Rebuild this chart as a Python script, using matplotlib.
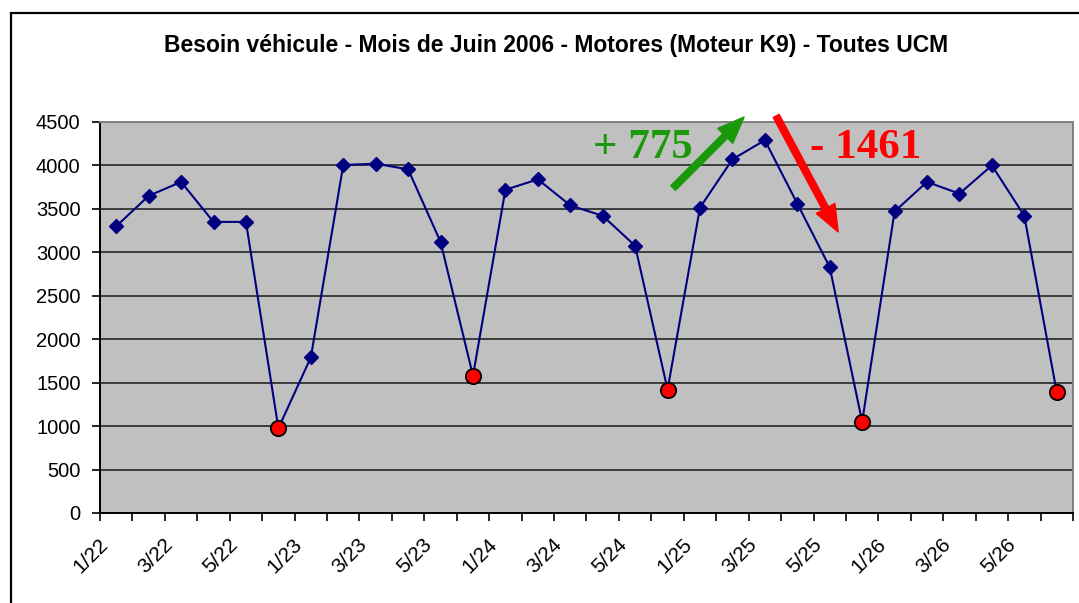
import matplotlib.pyplot as plt
from matplotlib.patches import Rectangle
from matplotlib.transforms import ScaledTranslation

plt.rcParams['font.family'] = ['Liberation Sans', 'DejaVu Sans']

days = ['1/22', '2/22', '3/22', '4/22', '5/22', '6/22',
        '1/23', '2/23', '3/23', '4/23', '5/23', '6/23',
        '1/24', '2/24', '3/24', '4/24', '5/24', '6/24',
        '1/25', '2/25', '3/25', '4/25', '5/25', '6/25',
        '1/26', '2/26', '3/26', '4/26', '5/26', '6/26']
besoin = [3300, 3650, 3810, 3350, 3350, 975,
          1790, 4005, 4020, 3955, 3120, 1580,
          3720, 3840, 3540, 3420, 3075, 1420,
          3515, 4070, 4290, 3560, 2829, 1050,
          3470, 3810, 3675, 4000, 3420, 1390]
low_idx = [5, 11, 17, 23, 29]
y_ticks = list(range(0, 4501, 500))

fig = plt.figure(figsize=(10.79, 6.03), dpi=100)
ax = fig.add_axes([0.0927, 0.1493, 0.9017, 0.6484])

# chart frame around the whole figure
fig.patches.append(Rectangle((11 / 1079, -0.1), 2, 1.1 - 13 / 603,
                             transform=fig.transFigure, fill=False,
                             edgecolor='black', linewidth=1.6))

ax.set_facecolor('#C0C0C0')
x = list(range(len(days)))
ax.plot(x, besoin, color='#000080', linewidth=1.5, marker='D',
        markersize=7.3, zorder=3)
ax.plot([x[i] for i in low_idx], [besoin[i] for i in low_idx], linestyle='none',
        marker='o', markersize=11, markerfacecolor='red',
        markeredgecolor='black', markeredgewidth=1.3, zorder=4)

ax.set_ylim(0, 4500)
ax.set_yticks(y_ticks)
ax.yaxis.grid(True, color='#3c3c3c', linewidth=1.4)
ax.set_axisbelow(True)
ax.tick_params(axis='y', length=6, width=1.2, pad=8, labelsize=14.5)

ax.set_xlim(-0.5, len(days) - 0.5)
ax.set_xticks([i - 0.5 for i in range(len(days) + 1)])
ax.set_xticklabels([])
ax.tick_params(axis='x', which='major', length=6, width=1.2)
ax.set_xticks(x[::2], minor=True)
ax.set_xticklabels(days[::2], minor=True, rotation=45, ha='right',
                   va='top', rotation_mode='anchor', fontsize=15)
ax.tick_params(axis='x', which='minor', length=0, pad=16)
shift = ScaledTranslation(-18 / 100, 0, fig.dpi_scale_trans)
for lab in ax.get_xticklabels(minor=True):
    lab.set_transform(lab.get_transform() + shift)

for side in ['left', 'bottom']:
    ax.spines[side].set_color('black')
    ax.spines[side].set_linewidth(1.4)
for side in ['top', 'right']:
    ax.spines[side].set_color('#808080')
    ax.spines[side].set_linewidth(1.4)

fig.text(0.515, 0.925, 'Besoin véhicule - Mois de Juin 2006 - Motores (Moteur K9) - Toutes UCM',
         ha='center', va='center', fontsize=16.5, fontweight='bold')

# rise and fall annotations
green = '#1a9a0a'
arrow = 'simple,head_length=1.2,head_width=0.95,tail_width=0.3'
ax.text(16.24, 4086, '+ 775', color=green, fontsize=31, fontweight='bold',
        family='Liberation Serif', ha='center', va='baseline')
ax.text(23.12, 4086, '- 1461', color='red', fontsize=31, fontweight='bold',
        family='Liberation Serif', ha='center', va='baseline')
ax.annotate('', xy=(19.36, 4557), xytext=(17.17, 3740), annotation_clip=False,
            arrowprops=dict(arrowstyle=arrow, color=green, shrinkA=0, shrinkB=0,
                            mutation_scale=16))
ax.annotate('', xy=(22.26, 3234), xytext=(20.35, 4569), annotation_clip=False,
            arrowprops=dict(arrowstyle=arrow, color='red', shrinkA=0, shrinkB=0,
                            mutation_scale=16))

fig.savefig('out.png', dpi=100)
